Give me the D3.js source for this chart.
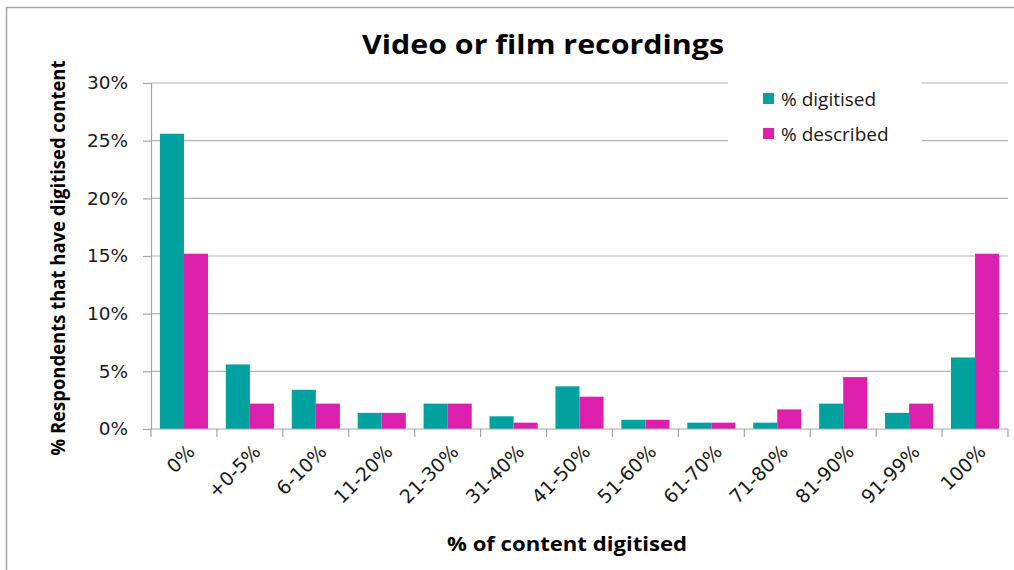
<!DOCTYPE html>
<html lang="en">
<head>
    <meta charset="utf-8">
    <title>Video or film recordings</title>
    <script src="https://d3js.org/d3.v7.min.js"></script>
    <style>
        body { margin: 0; background: #fff; }
    </style>
</head>
<body>
<svg width="1014" height="570"></svg>
<script>
    var categories = ["0%", "+0-5%", "6-10%", "11-20%", "21-30%", "31-40%", "41-50%",
                      "51-60%", "61-70%", "71-80%", "81-90%", "91-99%", "100%"];
    var digitised = [25.6, 5.6, 3.4, 1.4, 2.2, 1.1, 3.7, 0.8, 0.55, 0.55, 2.2, 1.4, 6.2];
    var described = [15.2, 2.2, 2.2, 1.4, 2.2, 0.55, 2.8, 0.8, 0.55, 1.7, 4.5, 2.2, 15.2];
    var seriesNames = ["% digitised", "% described"];
    var colors = ["#00a19f", "#dc1fad"];
    var yTicks = [0, 5, 10, 15, 20, 25, 30];

    var marge = {top: 83, bottom: 141, left: 151, right: 6};
    var width = 1014, height = 570;
    var svg = d3.select("svg");

    // outer frame
    svg.append("rect")
        .attr("x", 6.5).attr("y", 7.5)
        .attr("width", 1020).attr("height", 600)
        .attr("fill", "none").attr("stroke", "#a6a6a6").attr("stroke-width", 1.5);

    var x = d3.scaleBand()
        .domain(categories)
        .range([marge.left, width - marge.right])
        .paddingInner(0.27)
        .paddingOuter(0.135);
    var x1 = d3.scaleBand()
        .domain([0, 1])
        .range([0, x.bandwidth()]);
    var y = d3.scaleLinear()
        .domain([0, 30])
        .range([height - marge.bottom, marge.top]);

    // gridlines
    svg.append("g").selectAll("line")
        .data(yTicks.slice(1))
        .enter().append("line")
        .attr("x1", marge.left).attr("x2", width - marge.right)
        .attr("y1", function(d){ return y(d); }).attr("y2", function(d){ return y(d); })
        .attr("stroke", "#b3b3b3").attr("stroke-width", 1.2);

    // bars
    var groups = svg.append("g").selectAll("g")
        .data(categories)
        .enter().append("g")
        .attr("transform", function(d){ return "translate(" + x(d) + ",0)"; });
    [digitised, described].forEach(function(values, s){
        groups.append("rect")
            .attr("x", x1(s))
            .attr("width", x1.bandwidth())
            .attr("y", function(d, i){ return y(values[i]); })
            .attr("height", function(d, i){ return y(0) - y(values[i]); })
            .attr("fill", colors[s]);
    });

    // y axis
    var yAxis = svg.append("g")
        .attr("transform", "translate(" + marge.left + ",0)")
        .call(d3.axisLeft(y).tickValues(yTicks).tickSize(8).tickPadding(15)
            .tickFormat(function(d){ return d + "%"; }));
    yAxis.select(".domain").attr("stroke", "#a6a6a6").attr("stroke-width", 1.2);
    yAxis.selectAll(".tick line").attr("stroke", "#a6a6a6").attr("stroke-width", 1.2);
    yAxis.selectAll("text")
        .attr("font-family", "DejaVu Sans").attr("font-size", 18.5).attr("fill", "#1a1a1a");

    // x axis
    var bound = categories.map(function(c){ return x(c) - x.step() * x.paddingInner() / 2; });
    bound.push(width - marge.right);
    var xg = svg.append("g");
    xg.append("line")
        .attr("x1", marge.left).attr("x2", width - marge.right)
        .attr("y1", y(0)).attr("y2", y(0))
        .attr("stroke", "#a6a6a6").attr("stroke-width", 1.2);
    xg.selectAll(".xt").data(bound).enter().append("line")
        .attr("x1", function(d){ return d; }).attr("x2", function(d){ return d; })
        .attr("y1", y(0)).attr("y2", y(0) + 8)
        .attr("stroke", "#a6a6a6").attr("stroke-width", 1.2);
    xg.selectAll("text").data(categories).enter().append("text")
        .attr("transform", function(d){
            return "translate(" + (x(d) + x.bandwidth() / 2 + 12) + "," + (y(0) + 24) + ") rotate(-45)";
        })
        .attr("text-anchor", "end")
        .attr("font-family", "DejaVu Sans").attr("font-size", 19).attr("fill", "#1a1a1a")
        .text(function(d){ return d; });

    // legend
    var legend = svg.append("g");
    legend.append("rect")
        .attr("x", 728).attr("y", 75).attr("width", 194).attr("height", 75)
        .attr("fill", "#fff");
    seriesNames.forEach(function(name, i){
        legend.append("rect")
            .attr("x", 763).attr("y", 93 + i * 35).attr("width", 11).attr("height", 11)
            .attr("fill", colors[i]);
        legend.append("text")
            .attr("x", 781).attr("y", 106 + i * 35)
            .attr("font-family", "Open Sans").attr("font-size", 19).attr("fill", "#1a1a1a")
            .text(name);
    });

    // titles
    svg.append("text")
        .attr("x", 543).attr("y", 54)
        .attr("text-anchor", "middle")
        .attr("font-family", "Open Sans").attr("font-weight", "bold").attr("font-size", 27)
        .attr("textLength", 362).attr("lengthAdjust", "spacingAndGlyphs")
        .text("Video or film recordings");
    svg.append("text")
        .attr("x", 567).attr("y", 551)
        .attr("text-anchor", "middle")
        .attr("font-family", "Open Sans").attr("font-weight", "bold").attr("font-size", 19)
        .attr("textLength", 240).attr("lengthAdjust", "spacingAndGlyphs")
        .text("% of content digitised");
    svg.append("text")
        .attr("transform", "translate(65,258) rotate(-90)")
        .attr("text-anchor", "middle")
        .attr("font-family", "Open Sans").attr("font-weight", "bold").attr("font-size", 19)
        .attr("textLength", 395).attr("lengthAdjust", "spacingAndGlyphs")
        .text("% Respondents that have digitised content");
</script>
</body>
</html>
